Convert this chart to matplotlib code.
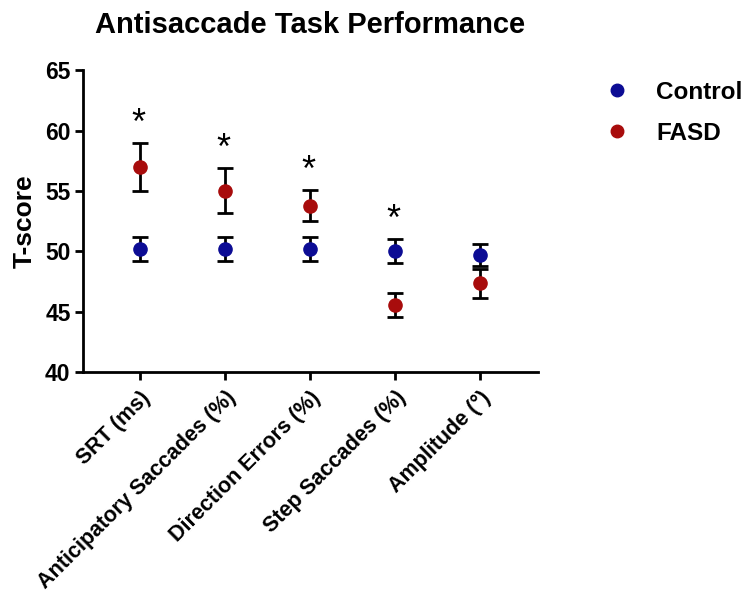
import numpy as np
import matplotlib
matplotlib.use("Agg")
import matplotlib.pyplot as plt
from matplotlib.lines import Line2D

plt.rcParams["font.family"] = ["Liberation Sans", "DejaVu Sans"]
plt.rcParams["font.weight"] = "bold"

# Données
categories = ["SRT (ms)", "Anticipatory Saccades (%)", "Direction Errors (%)",
              "Step Saccades (%)", "Amplitude (°)"]
control_mean = [50.2, 50.2, 50.2, 50.0, 49.7]
control_err = [0.97, 0.98, 1.0, 1.0, 0.9]
fasd_mean = [57.0, 55.05, 53.8, 45.55, 47.35]
fasd_err = [2.0, 1.85, 1.27, 0.97, 1.2]
significant = [True, True, True, True, False]

col_control = "#0c0c94"
col_fasd = "#a80c0c"

fig = plt.figure(figsize=(7.44, 6.01), dpi=100)
ax = fig.add_axes([0.1116, 0.381, 0.6114, 0.5017])

x = np.arange(len(categories))

ax.errorbar(x, control_mean, yerr=control_err, fmt="none", ecolor="black",
            elinewidth=2, capsize=6, capthick=2, zorder=2)
ax.errorbar(x, fasd_mean, yerr=fasd_err, fmt="none", ecolor="black",
            elinewidth=2, capsize=6, capthick=2, zorder=2)
ax.plot(x, control_mean, "o", color=col_control, markersize=9.5, zorder=3)
ax.plot(x, fasd_mean, "o", color=col_fasd, markersize=9.5, zorder=3)

# Astérisques au-dessus de la barre d'erreur la plus haute
for i, sig in enumerate(significant):
    if not sig:
        continue
    top = max(control_mean[i] + control_err[i], fasd_mean[i] + fasd_err[i])
    ax.annotate("*", (x[i], top), xytext=(-1, 1), textcoords="offset points",
                ha="center", va="bottom", fontsize=26, fontweight="normal")

ax.set_xlim(-0.67, 4.68)
ax.set_ylim(40, 65)
ax.set_yticks([40, 45, 50, 55, 60, 65])
ax.set_xticks(x)
ax.set_xticklabels(categories, rotation=45, ha="right", rotation_mode="anchor",
                   fontsize=15.5, fontweight="bold")
for lab in ax.get_yticklabels():
    lab.set_fontsize(16.5)
    lab.set_fontweight("bold")

for s in ["top", "right"]:
    ax.spines[s].set_visible(False)
for s in ["left", "bottom"]:
    ax.spines[s].set_linewidth(2)
ax.tick_params(axis="both", width=2, length=6, direction="out", pad=3)
ax.tick_params(axis="x", pad=5)

ax.set_ylabel("T-score", fontsize=19, fontweight="bold", labelpad=6)
ax.set_title("Antisaccade Task Performance", fontsize=21, fontweight="bold", pad=27)

handles = [
    Line2D([], [], marker="o", linestyle="none", color=col_control, markersize=9),
    Line2D([], [], marker="o", linestyle="none", color=col_fasd, markersize=9),
]
fig.legend(handles, ["Control", "FASD"], loc="upper left",
           bbox_to_anchor=(0.8, 0.882), frameon=False,
           prop={"size": 17.5, "weight": "bold"}, labelspacing=0.75,
           handletextpad=1.1, handlelength=1.0, borderaxespad=0.0)

fig.savefig("out.png", dpi=100)
